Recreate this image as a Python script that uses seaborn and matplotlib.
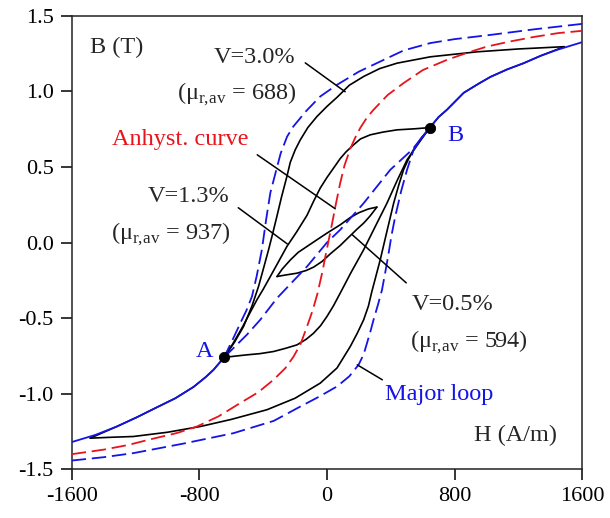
import numpy as np
import pandas as pd
import matplotlib
matplotlib.use('Agg')
import matplotlib.pyplot as plt
import seaborn as sns

# --- data (H in A/m, B in T) ---
major_up_H = [1600, 1300, 1025, 800, 648, 480, 334, 200, 63, -42, -130, -211, -250, -290, -320, -355, -380,
              -408, -440, -470, -505, -533, -590, -645]
major_up_B = [1.446, 1.41, 1.373, 1.345, 1.319, 1.27, 1.197, 1.13, 1.043, 0.966, 0.87, 0.767, 0.70, 0.59, 0.47,
              0.328, 0.16, -0.048, -0.22, -0.357, -0.45, -0.511, -0.64, -0.76]
major_lo_H = [-1600, -1400, -1213, -900, -586, -334, -167, -50, 63, 140, 198, 230, 251, 272, 292, 320, 345,
              365, 385, 405, 428, 465, 502, 543, 600, 645]
major_lo_B = [-1.442, -1.42, -1.393, -1.33, -1.261, -1.18, -1.085, -1.02, -0.952, -0.885, -0.809, -0.74, -0.665,
              -0.59, -0.511, -0.41, -0.313, -0.2, -0.08, 0.05, 0.172, 0.34, 0.481, 0.613, 0.70, 0.76]

anh_H = [-1600, -1400, -1250, -1100, -940, -815, -680, -544, -430, -335, -260, -209, -165, -125, -90, -60, -30,
         0, 31, 55, 83, 110, 146, 180, 210, 250, 292, 380, 480, 600, 752, 880, 1003, 1150, 1300, 1450, 1600]
anh_B = [-1.40, -1.37, -1.34, -1.30, -1.26, -1.217, -1.15, -1.062, -0.99, -0.908, -0.83, -0.754, -0.67, -0.556,
         -0.45, -0.34, -0.20, -0.04, 0.12, 0.25, 0.393, 0.51, 0.62, 0.70, 0.76, 0.825, 0.878, 0.975, 1.054, 1.14,
         1.208, 1.255, 1.296, 1.33, 1.36, 1.385, 1.40]

# normal curve outside the A-B range
bs_left_H = [-1600, -1450, -1317, -1190, -1066, -950, -836, -760, -711, -645]
bs_left_B = [-1.32, -1.272, -1.217, -1.155, -1.09, -1.03, -0.955, -0.89, -0.842, -0.76]
bs_right_H = [645, 700, 752, 857, 950, 1024, 1130, 1233, 1340, 1442, 1600]
bs_right_B = [0.76, 0.83, 0.878, 0.99, 1.05, 1.095, 1.145, 1.186, 1.235, 1.274, 1.325]

# dashed line A-B
diag_H = [-645, -502, -418, -313, -125, 0, 83, 230, 397, 533, 645]
diag_B = [-0.76, -0.61, -0.511, -0.368, -0.159, 0.0, 0.084, 0.26, 0.481, 0.613, 0.76]

# V=3.0% loop
v30_desc_H = [1487, 1200, 940, 648, 439, 330, 230, 140, 63, 0, -63, -120, -167, -199, -230, -251, -285, -314,
              -340, -366, -400, -429, -470, -523, -580, -645,
              -711, -760, -836, -950, -1066, -1190, -1317, -1484]
v30_desc_B = [1.295, 1.28, 1.261, 1.228, 1.186, 1.15, 1.098, 1.04, 0.96, 0.9, 0.833, 0.76, 0.679, 0.613, 0.53,
              0.437, 0.30, 0.172, 0.06, -0.048, -0.18, -0.291, -0.42, -0.556, -0.66, -0.76,
              -0.842, -0.89, -0.955, -1.03, -1.09, -1.155, -1.217, -1.294]
v30_asc_H = [-1484, -1350, -1213, -1000, -794, -600, -376, -200, -42, 63, 146, 190, 230, 260, 280, 305, 334,
             375, 418, 450, 480, 510, 543, 590, 645,
             700, 752, 857, 950, 1024, 1130, 1233, 1340, 1487]
v30_asc_B = [-1.294, -1.288, -1.283, -1.255, -1.217, -1.17, -1.106, -1.03, -0.93, -0.83, -0.688, -0.6, -0.511,
             -0.42, -0.33, -0.23, -0.114, 0.07, 0.26, 0.38, 0.481, 0.55, 0.613, 0.69, 0.76,
             0.83, 0.878, 0.99, 1.05, 1.095, 1.145, 1.186, 1.235, 1.295]

# V=1.3% loop (tips at A and B)
v13_desc_H = [645, 550, 439, 350, 271, 210, 167, 120, 83, 40, 0, -42, -85, -125, -190, -251, -300, -355, -400,
              -439, -490, -530, -590, -645]
v13_desc_B = [0.76, 0.752, 0.745, 0.73, 0.712, 0.685, 0.646, 0.60, 0.555, 0.49, 0.43, 0.36, 0.27, 0.18, 0.07,
              -0.026, -0.12, -0.225, -0.31, -0.379, -0.48, -0.56, -0.67, -0.76]
v13_asc_H = [-645, -580, -502, -420, -335, -260, -188, -130, -84, -40, 0, 40, 83, 150, 230, 300, 376, 440, 502,
             570, 645]
v13_asc_B = [-0.76, -0.752, -0.743, -0.735, -0.721, -0.70, -0.677, -0.64, -0.60, -0.55, -0.489, -0.42, -0.335,
             -0.20, -0.048, 0.10, 0.26, 0.41, 0.547, 0.65, 0.76]

# V=0.5% loop
v05_up_H = [-313, -280, -230, -180, -125, -60, 0, 83, 146, 200, 260, 313]
v05_up_B = [-0.225, -0.175, -0.116, -0.065, -0.026, 0.02, 0.062, 0.117, 0.165, 0.197, 0.222, 0.234]
v05_lo_H = [-313, -260, -188, -130, -84, -30, 21, 83, 146, 190, 230, 270, 313]
v05_lo_B = [-0.225, -0.215, -0.203, -0.185, -0.163, -0.125, -0.075, -0.02, 0.045, 0.09, 0.128, 0.175, 0.234]

tip_H = [-645, 645]
tip_B = [-0.76, 0.76]

x_ticks = [-1600, -800, 0, 800, 1600]
y_ticks = [-1.5, -1.0, -0.5, 0.0, 0.5, 1.0, 1.5]

BLUE = '#1414e6'
RED = '#e8141c'
DASH = (0, (8, 3.2))

sns.set_style('ticks')
plt.rcParams['font.family'] = ['Liberation Serif', 'DejaVu Serif']
plt.rcParams['mathtext.fontset'] = 'custom'
plt.rcParams['mathtext.rm'] = 'Liberation Serif'
plt.rcParams['axes.unicode_minus'] = False

fig = plt.figure(figsize=(6.1, 5.18), dpi=100)
ax = fig.add_axes([0.1175, 0.094, 0.837, 0.8757])


def curve(h, b, color, ls='-', lw=1.2, z=2):
    sns.lineplot(x=np.array(h), y=np.array(b), sort=False, estimator=None, ax=ax,
                 color=color, linestyle=ls, linewidth=lw, zorder=z)


# black loops
curve(v30_desc_H, v30_desc_B, 'black')
curve(v30_asc_H, v30_asc_B, 'black')
curve(v13_desc_H, v13_desc_B, 'black')
curve(v13_asc_H, v13_asc_B, 'black')
curve(v05_up_H, v05_up_B, 'black')
curve(v05_lo_H, v05_lo_B, 'black')

# dashed reference curves
curve(major_up_H, major_up_B, BLUE, DASH, 1.3, 3)
curve(major_lo_H, major_lo_B, BLUE, DASH, 1.3, 3)
curve(diag_H, diag_B, BLUE, DASH, 1.3, 3)
curve(anh_H, anh_B, RED, DASH, 1.3, 3)

# normal curve
curve(bs_left_H, bs_left_B, BLUE, '-', 1.3, 4)
curve(bs_right_H, bs_right_B, BLUE, '-', 1.3, 4)

sns.scatterplot(x=tip_H, y=tip_B, color='black', s=55, edgecolor='black', zorder=6, ax=ax)

ax.set_xlim(-1600, 1600)
ax.set_ylim(-1.5, 1.5)
ax.set_xticks(x_ticks)
ax.set_xticklabels([str(v) for v in x_ticks])
ax.set_yticks(y_ticks)
ax.set_yticklabels(['%.1f' % v for v in y_ticks])
ax.tick_params(direction='out', length=8, width=1.1, labelsize=16, colors='black', pad=5)
for s in ax.spines.values():
    s.set_linewidth(1.1)
    s.set_color('#222222')
ax.set_xlabel('')
ax.set_ylabel('')

fs = 17.5
mu = '(μ$_{\\rm r,\\!av}$ = %d)'
ax.text(-1484, 1.288, 'B (T)', fontsize=fs, ha='left', va='center')
ax.text(919, -1.316, 'H (A/m)', fontsize=fs, ha='left', va='baseline')

ax.text(-197, 1.19, 'V=3.0%', fontsize=fs, ha='right', va='baseline')
ax.text(-191, 0.944, mu % 688, fontsize=fs, ha='right', va='baseline')
ax.text(-1346, 0.642, 'Anhyst. curve', fontsize=fs, ha='left', va='baseline', color=RED)
ax.text(-613, 0.267, 'V=1.3%', fontsize=fs, ha='right', va='baseline')
ax.text(-606, 0.022, mu % 937, fontsize=fs, ha='right', va='baseline')
ax.text(533, -0.445, 'V=0.5%', fontsize=fs, ha='left', va='baseline')
ax.text(522, -0.692, mu % 594, fontsize=fs, ha='left', va='baseline')
ax.text(366, -1.04, 'Major loop', fontsize=fs, ha='left', va='baseline', color=BLUE)
ax.text(-711, -0.757, 'A', fontsize=fs, ha='right', va='baseline', color=BLUE)
ax.text(752, 0.668, 'B', fontsize=fs, ha='left', va='baseline', color=BLUE)

# leader lines
leaders = [((-136, 1.188), (114, 0.997)),
           ((-437, 0.58), (52, 0.223)),
           ((-556, 0.23), (-249, -0.009)),
           ((159, 0.051), (497, -0.267)),
           ((190, -0.809), (347, -0.908))]
for (x0, y0), (x1, y1) in leaders:
    ax.plot([x0, x1], [y0, y1], color='black', lw=1.1, zorder=5)

fig.savefig('out.png', dpi=100)
